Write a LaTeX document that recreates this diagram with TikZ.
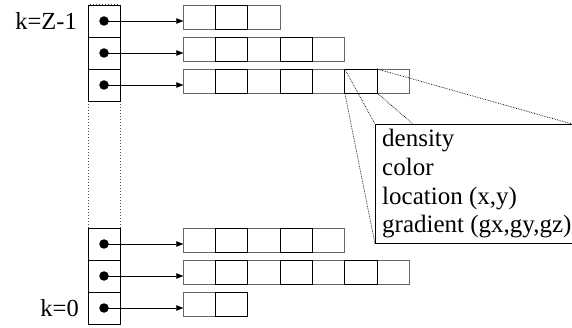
\documentclass[tikz,border=0pt]{standalone}
\usepackage{fontspec}
\setmainfont{Liberation Serif}
\usetikzlibrary{arrows.meta,calc}
\begin{document}
\begin{tikzpicture}[x=1pt,y=-1pt,
  slot/.style={draw,line width=0.8pt,minimum width=32pt,minimum height=32pt,inner sep=0pt,outer sep=0pt,anchor=north west},
  cellA/.style={draw=black!60,line width=0.9pt,minimum width=32.3pt,minimum height=24pt,inner sep=0pt,outer sep=0pt,anchor=north west},
  cellB/.style={cellA,draw=black},
  ptr/.style={-{Triangle[length=7pt,width=5.5pt]},line width=0.6pt,shorten <=-1pt},
  dotmark/.style={circle,fill=black,minimum size=9.5pt,inner sep=0pt},
  zoomline/.style={densely dotted,line width=0.7pt},
  lbl/.style={font=\fontsize{24.5}{26}\selectfont,inner sep=0pt}]
\useasboundingbox (0,0) rectangle (572,328);
% outline of the level table
\draw[dotted,line width=1pt,black!70] (88,5) rectangle (120,324);
% table slots, their pointers and the rows they point to
\foreach \r/\ytop/\n in {1/5/3, 2/37/5, 3/69/7, 4/228/5, 5/260/7, 6/292/2}{
  \node[slot] (s\r) at (88,\ytop) {};
  \node[dotmark] (d\r) at (104,\ytop+16) {};
  \foreach \c in {1,...,\n}{
    \pgfmathtruncatemacro{\odd}{mod(\c,2)}
    \ifnum\odd=1
      \node[cellA] (c\r-\c) at ({183.3+(\c-1)*32.3},\ytop) {};
    \else
      \node[cellB] (c\r-\c) at ({183.3+(\c-1)*32.3},\ytop) {};
    \fi
  }
  \draw[ptr] (d\r.center) -- (c\r-1.west |- d\r.center);
}
% redraw the even cells on top so their black edges stay visible
\foreach \r/\n in {1/3, 2/5, 3/7, 4/5, 5/7, 6/2}{
  \foreach \c in {2,4,6}{
    \ifnum\c>\n\else
      \draw[black,line width=0.9pt] (c\r-\c.north west) rectangle (c\r-\c.south east);
    \fi
  }
}
% level labels
\node[lbl,anchor=east] (ktop) at (77,21) {k=Z-1};
\node[lbl,anchor=east] (kbot) at (79,308) {k=0};
% voxel record: frame and its field list
\node[draw,line width=0.8pt,anchor=north west,minimum width=200pt,minimum height=119pt,
      inner sep=0pt] (rec) at (375,124) {};
\node[anchor=base west,inner sep=0pt,align=left,
      font=\fontsize{25}{28.7}\selectfont] (fields) at (382,233)
  {density\\color\\location (x,y)\\gradient (gx,gy,gz)};
% zoom lines from the selected cell to the record
\coordinate (recright) at (572,124);
\draw[zoomline] (c3-6.north west) -- (rec.north west);
\draw[zoomline] (c3-6.south west) -- (rec.south west);
\draw[zoomline] (c3-6.south east) -- ($(rec.north west)+(38,0)$);
\draw[zoomline] (c3-6.north east) -- (recright);
\end{tikzpicture}
\end{document}
